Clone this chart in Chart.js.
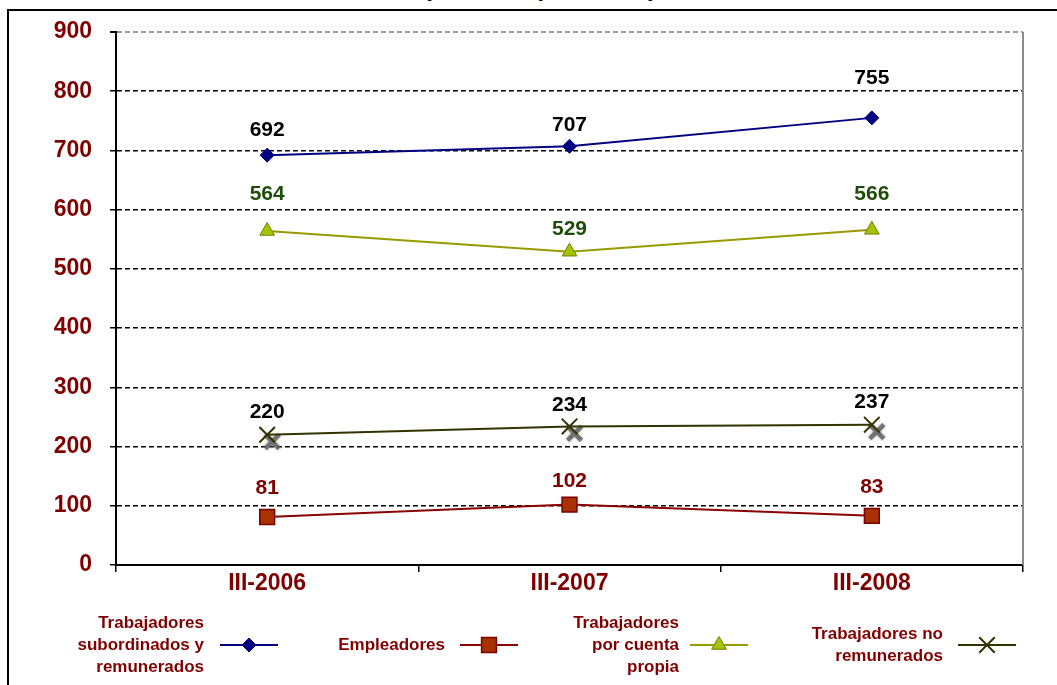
<!DOCTYPE html>
<html lang="es">
<head>
<meta charset="UTF-8">
<title>Ocupados por categoría</title>
<script src="https://cdn.jsdelivr.net/npm/chart.js"></script>
<style>
    body {
        margin: 0;
        width: 1057px;
        height: 685px;
        overflow: hidden;
        position: relative;
        background: #fff;
        font-family: "Liberation Sans", Arial, sans-serif;
    }
    #title {
        position: absolute;
        left: 0;
        width: 1080px;
        top: -27px;
        text-align: center;
        font-weight: bold;
        font-size: 25px;
        color: #000;
    }
    #frame {
        position: absolute;
        left: 7px;
        top: 9px;
        width: 2000px;
        height: 2000px;
        border: 2px solid #000;
    }
    #wrap {
        position: absolute;
        left: 0;
        top: 0;
        width: 1057px;
        height: 685px;
    }
    .leg-text {
        position: absolute;
        text-align: right;
        font-weight: bold;
        font-size: 17px;
        line-height: 22px;
        color: #800000;
        white-space: pre;
    }
    .leg-mark {
        position: absolute;
    }
</style>
</head>
<body>
<div id="title">(Miles de personas)</div>
<div id="frame"></div>
<div id="wrap"><canvas id="chart"></canvas></div>
<div id="legend"></div>

<script>
    // data
    const categories = ['III-2006', 'III-2007', 'III-2008'];
    const subordinados = [692, 707, 755];
    const empleadores = [81, 102, 83];
    const cuentaPropia = [564, 529, 566];
    const noRemunerados = [220, 234, 237];
    const seriesNames = [
        'Trabajadores\nsubordinados y\nremunerados',
        'Empleadores',
        'Trabajadores\npor cuenta\npropia',
        'Trabajadores no\nremunerados'
    ];
    const yTicks = [0, 100, 200, 300, 400, 500, 600, 700, 800, 900];

    // label placement above each point (px) and colours
    const labelLift = [[25, 21, 40], [29, 23, 29], [37, 23, 36], [23, 21, 22]];
    const labelColors = ['#000', '#800000', '#1e4d0a', '#000'];

    const datasets = [
        {
            data: subordinados,
            borderColor: '#000080',
            borderWidth: 2,
            pointStyle: 'rectRot',
            pointRadius: 7,
            pointBackgroundColor: '#000080',
            pointBorderColor: '#000080',
            pointBorderWidth: 1
        },
        {
            data: empleadores,
            borderColor: '#8b0000',
            borderWidth: 2,
            pointStyle: 'rect',
            pointRadius: 10.5,
            pointBackgroundColor: '#a83200',
            pointBorderColor: '#7a0000',
            pointBorderWidth: 1.5
        },
        {
            data: cuentaPropia,
            borderColor: '#999900',
            borderWidth: 2,
            pointStyle: 'triangle',
            pointRadius: 8.5,
            pointBackgroundColor: '#a3c400',
            pointBorderColor: '#7a7a00',
            pointBorderWidth: 1
        },
        {
            data: noRemunerados,
            borderColor: '#333300',
            borderWidth: 2,
            pointStyle: 'crossRot',
            pointRadius: 11,
            pointBackgroundColor: '#333300',
            pointBorderColor: '#333300',
            pointBorderWidth: 2
        }
    ];
    datasets.forEach((d, i) => { d.label = seriesNames[i].replace(/\n/g, ' '); d.tension = 0; d.fill = false; });

    // grey blurred shadow behind the X markers
    const xShadow = {
        id: 'xShadow',
        beforeDatasetDraw(chart, args) {
            if (args.index !== 3) return;
            const ctx = chart.ctx;
            ctx.save();
            ctx.strokeStyle = 'rgba(90,90,90,0.75)';
            ctx.lineWidth = 4.5;
            ctx.shadowColor = 'rgba(120,120,120,0.8)';
            ctx.shadowBlur = 3;
            args.meta.data.forEach(p => {
                const x = p.x + 5, y = p.y + 7, r = 7;
                ctx.beginPath();
                ctx.moveTo(x - r, y - r); ctx.lineTo(x + r, y + r);
                ctx.moveTo(x + r, y - r); ctx.lineTo(x - r, y + r);
                ctx.stroke();
            });
            ctx.restore();
        }
    };

    const valueLabels = {
        id: 'valueLabels',
        afterDatasetsDraw(chart) {
            const ctx = chart.ctx;
            ctx.save();
            ctx.font = 'bold 21px "Liberation Sans", Arial, sans-serif';
            ctx.textAlign = 'center';
            ctx.textBaseline = 'middle';
            chart.data.datasets.forEach((ds, i) => {
                chart.getDatasetMeta(i).data.forEach((p, j) => {
                    ctx.fillStyle = labelColors[i];
                    ctx.fillText(String(ds.data[j]), p.x, p.y - labelLift[i][j]);
                });
            });
            ctx.restore();
        }
    };

    const rightBorder = {
        id: 'rightBorder',
        afterDraw(chart) {
            const a = chart.chartArea, ctx = chart.ctx;
            ctx.save();
            ctx.strokeStyle = '#8c8c8c';
            ctx.lineWidth = 2;
            ctx.beginPath();
            ctx.moveTo(a.right, a.top);
            ctx.lineTo(a.right, a.bottom);
            ctx.stroke();
            ctx.restore();
        }
    };

    new Chart(document.getElementById('chart'), {
        type: 'line',
        data: { labels: categories, datasets: datasets },
        plugins: [xShadow, valueLabels, rightBorder],
        options: {
            responsive: true,
            maintainAspectRatio: false,
            animation: false,
            layout: { padding: { left: 0, top: 32, right: 34, bottom: 80 } },
            plugins: {
                legend: { display: false },
                tooltip: { enabled: false }
            },
            scales: {
                x: {
                    offset: true,
                    afterFit(scale) { scale.height = 40; },
                    grid: {
                        offset: true,
                        drawOnChartArea: false,
                        tickLength: 7,
                        color: '#000',
                        lineWidth: 1.5
                    },
                    border: { color: '#000', width: 2 },
                    ticks: {
                        color: '#800000',
                        padding: -2,
                        font: { family: '"Liberation Sans", Arial, sans-serif', weight: 'bold', size: 23 }
                    }
                },
                y: {
                    min: 0,
                    max: 900,
                    afterFit(scale) { scale.width = 116; },
                    afterBuildTicks(scale) { scale.ticks = yTicks.map(v => ({ value: v })); },
                    grid: {
                        color: c => (c.tick && c.tick.value === 900) ? '#9a9a9a' : '#000',
                        lineWidth: c => (c.tick && c.tick.value === 900) ? 2 : 1.5,
                        tickBorderDash: [],
                        tickColor: '#000',
                        tickLength: 6
                    },
                    border: { color: '#000', width: 2, dash: [5, 3] },
                    ticks: {
                        color: '#800000',
                        padding: 18,
                        font: { family: '"Liberation Sans", Arial, sans-serif', weight: 'bold', size: 23 }
                    }
                }
            }
        }
    });

    // legend: text on the left, line + marker on the right
    const legTextRight = [204, 445, 679, 943];
    const legLineLeft = [220, 460, 690, 958];
    const legLineWidth = 58;
    const legMidY = 645;
    const legend = document.getElementById('legend');
    seriesNames.forEach((name, i) => {
        const t = document.createElement('div');
        t.className = 'leg-text';
        t.textContent = name;
        legend.appendChild(t);
        const lines = name.split('\n').length;
        t.style.right = (1057 - legTextRight[i]) + 'px';
        t.style.top = (legMidY - lines * 11) + 'px';

        const c = document.createElement('canvas');
        c.className = 'leg-mark';
        c.width = legLineWidth;
        c.height = 26;
        c.style.left = legLineLeft[i] + 'px';
        c.style.top = (legMidY - 13) + 'px';
        legend.appendChild(c);
        const ctx = c.getContext('2d');
        const ds = datasets[i];
        ctx.strokeStyle = ds.borderColor;
        ctx.lineWidth = 2;
        ctx.beginPath();
        ctx.moveTo(0, 13);
        ctx.lineTo(legLineWidth, 13);
        ctx.stroke();
        ctx.fillStyle = ds.pointBackgroundColor;
        ctx.strokeStyle = ds.pointBorderColor;
        ctx.lineWidth = ds.pointBorderWidth;
        Chart.helpers.drawPoint(ctx, {
            pointStyle: ds.pointStyle,
            radius: ds.pointRadius,
            borderWidth: ds.pointBorderWidth,
            rotation: 0
        }, legLineWidth / 2, 13);
    });
</script>
</body>
</html>
